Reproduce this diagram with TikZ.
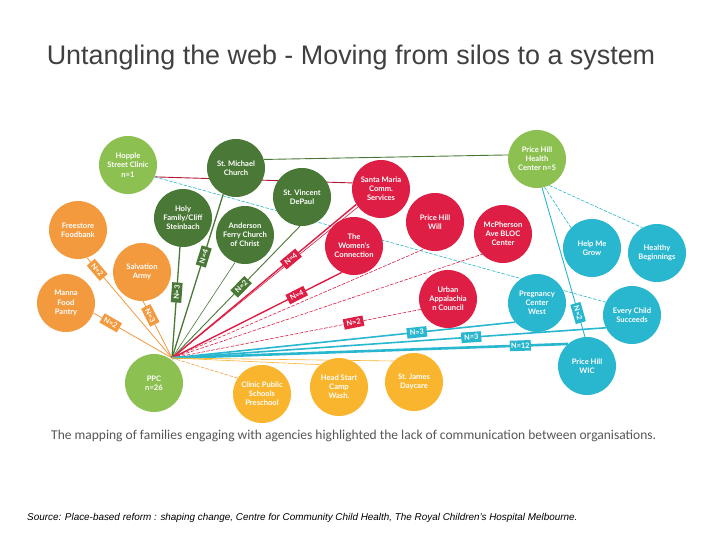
\documentclass[tikz,border=0pt]{standalone}
\usepackage{fontspec}
\setmainfont{Liberation Sans}
\newfontfamily\lato{Lato}
\newfontfamily\carlito{Carlito}
\definecolor{dkgreen}{RGB}{74,120,54}
\definecolor{ltgreen}{RGB}{140,193,82}
\definecolor{orng}{RGB}{243,154,63}
\definecolor{crim}{RGB}{222,30,68}
\definecolor{cyn}{RGB}{41,182,207}
\definecolor{yel}{RGB}{249,181,45}
\definecolor{titlegray}{RGB}{64,64,64}
\definecolor{capgray}{RGB}{85,85,85}
\pgfdeclarelayer{lines}
\pgfsetlayers{lines,main}
\begin{document}
\begin{tikzpicture}[x=1pt,y=-1pt,
  agency/.style={circle, minimum size=58pt, inner sep=0pt, text=white, align=center,
    font=\lato\bfseries\fontsize{7.6}{9.2}\selectfont},
  tag/.style={fill=#1, text=white, inner sep=1.2pt, sloped, minimum width=20pt, minimum height=10.5pt,
    font=\lato\bfseries\fontsize{7.4}{8}\selectfont},
  thin/.style={line width=0.6pt},
  dsh/.style={line width=0.6pt, dash pattern=on 3.5pt off 1.5pt}]
\begin{pgfonlayer}{lines}
\fill[white] (0,0) rectangle (720,540);
\end{pgfonlayer}
\useasboundingbox (0,0) rectangle (720,540);

% title and captions
\node[font=\fontsize{26.9}{31}\selectfont, text=titlegray] (title) at (351,58) {Untangling the web - Moving from silos to a system};
\node[font=\carlito\fontsize{13.5}{15}\selectfont, text=capgray, anchor=west, inner sep=0] (caption) at (51,436) {The mapping of families engaging with agencies highlighted the lack of communication between organisations.};
\node[font=\itshape\fontsize{9.9}{11}\selectfont, anchor=base west, inner sep=0] (source) at (27,520) {Source: Place-based reform : shaping change, Centre for Community Child Health, The Royal Children’s Hospital Melbourne.};

% agencies
\node[agency, fill=ltgreen] (hopple) at (128,165) {Hopple\\Street Clinic\\n=1};
\node[agency, fill=dkgreen] (stmichael) at (236,168) {St. Michael\\Church};
\node[agency, fill=dkgreen] (stvincent) at (302,197) {St. Vincent\\DePaul};
\node[agency, fill=dkgreen] (holy) at (183,218) {Holy\\Family/Cliff\\Steinbach};
\node[agency, fill=dkgreen] (anderson) at (245,235) {Anderson\\Ferry Church\\of Christ};
\node[agency, fill=orng] (freestore) at (78,230) {Freestore\\Foodbank};
\node[agency, fill=orng] (salvation) at (142,272) {Salvation\\Army};
\node[agency, fill=orng] (manna) at (66,303) {Manna\\Food\\Pantry};
\node[agency, fill=ltgreen] (ppc) at (154,383) {PPC\\n=26};
\node[agency, fill=yel] (clinic) at (262,394) {Clinic Public\\Schools\\Preschool};
\node[agency, fill=yel] (headstart) at (339,387) {Head Start\\Camp\\Wash.};
\node[agency, fill=yel] (stjames) at (414,382) {St. James\\Daycare};
\node[agency, fill=crim] (santamaria) at (381,189) {Santa Maria\\Comm.\\Services};
\node[agency, fill=crim] (women) at (354,246) {The\\Women's\\Connection};
\node[agency, fill=crim] (phwill) at (435,222) {Price Hill\\Will};
\node[agency, fill=crim] (mcpherson) at (503,234) {McPherson\\Ave BLOC\\Center};
\node[agency, fill=crim] (urban) at (448,299) {Urban\\Appalachia\\n Council};
\node[agency, fill=ltgreen] (phhealth) at (537,159) {Price Hill\\Health\\Center n=5};
\node[agency, fill=cyn] (helpme) at (592,248) {Help Me\\Grow};
\node[agency, fill=cyn] (healthy) at (657,253) {Healthy\\Beginnings};
\node[agency, fill=cyn] (pregnancy) at (537,303) {Pregnancy\\Center\\West};
\node[agency, fill=cyn] (everychild) at (632,315) {Every Child\\Succeeds};
\node[agency, fill=cyn] (wic) at (587,366) {Price Hill\\WIC};

\coordinate (hub) at (172,358);

\begin{pgfonlayer}{lines}
% top links
\draw[dkgreen, line width=0.9pt] (stmichael.17) -- (phhealth.172);
\draw[crim!80!black, line width=0.9pt] (hopple.336) -- (santamaria.168);
\draw[cyn, dsh] (hopple.336) -- (everychild.154);
% Price Hill Health links
\draw[cyn, dsh] (phhealth.285) -- (helpme.136);
\draw[cyn, dsh] (phhealth.295) -- (healthy.120);
\draw[cyn, line width=0.9pt] (phhealth.280) -- (wic.94) node[tag=cyn, pos=0.84] {N=2};
% orange
\draw[orng, line width=0.8pt] (hub) -- (freestore.288) node[tag=orng, pos=0.88] {N=2};
\draw[orng, line width=0.8pt] (hub) -- (salvation.272) node[tag=orng, pos=0.75] {N=3};
\draw[orng, line width=0.8pt] (hub) -- (manna.340) node[tag=orng, pos=0.78] {N=2};
% dark green
\draw[dkgreen, line width=1.3pt] (hub) -- (holy.264) node[tag=dkgreen, pos=0.59] {N=3};
\draw[dkgreen, line width=1.3pt] (hub) -- (stmichael.244) node[tag=dkgreen, pos=0.62] {N=4};
\draw[dkgreen, thin] (hub) -- (anderson.250);
\draw[dkgreen, line width=0.9pt] (hub) -- (stvincent.266) node[tag=dkgreen, pos=0.54] {N=2};
% red
\draw[crim, thin] (hub) -- (santamaria.218);
\draw[crim, line width=1.4pt] (hub) -- (santamaria.212) node[tag=crim, pos=0.645] {N=4};
\draw[crim, line width=1.4pt] (hub) -- (women.245) node[tag=crim, pos=0.735] {N=4};
\draw[crim, dsh] (hub) -- (phwill.248);
\draw[crim, dsh] (hub) -- (mcpherson.224);
\draw[crim, dsh] (hub) -- (urban.201) node[tag=crim, pos=0.73] {N=2};
% cyan
\draw[cyn, line width=1.6pt] (hub) -- (pregnancy.221) node[tag=cyn, pos=0.714] {N=3};
\draw[cyn, line width=1.6pt] (hub) -- (everychild.206) node[tag=cyn, pos=0.69] {N=3};
\draw[cyn, line width=2.6pt] (hub) -- (wic.131) node[tag=cyn, pos=0.88] {N=12};
% yellow
\draw[orng, dsh] (hub) -- (clinic.147);
\draw[yel, thin] (hub) -- (headstart.130);
\draw[yel, thin] (hub) -- (stjames.134);
\end{pgfonlayer}
\end{tikzpicture}
\end{document}
